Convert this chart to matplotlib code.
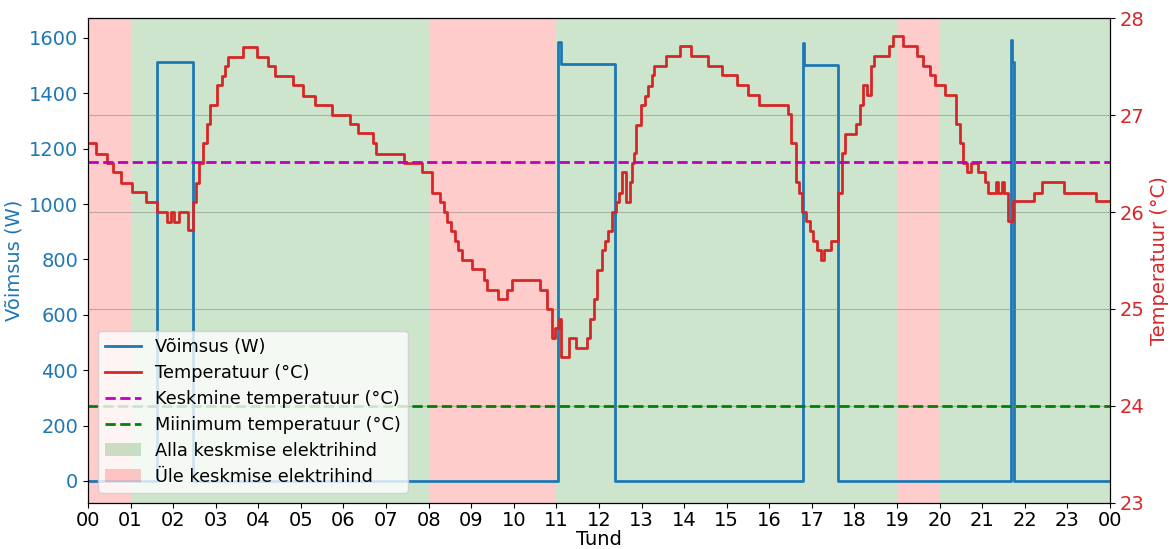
import matplotlib
matplotlib.use('Agg')
import matplotlib.pyplot as plt
from matplotlib.patches import Patch

# Temperature change points (hour, degC)
temp_hours = [0.00, 0.19, 0.44, 0.59, 0.77, 1.03, 1.36, 1.61, 1.86, 1.94, 2.02, 2.14,
              2.36, 2.46, 2.54, 2.61, 2.71, 2.79, 2.87, 3.04, 3.14, 3.22, 3.30, 3.65,
              3.96, 4.23, 4.39, 4.82, 5.06, 5.33, 5.74, 6.15, 6.33, 6.69, 6.76, 7.42,
              7.84, 8.09, 8.27, 8.36, 8.44, 8.53, 8.62, 8.70, 8.78, 9.03, 9.29, 9.36,
              9.62, 9.85, 9.95, 10.62, 10.77, 10.89, 10.97, 11.05, 11.12, 11.30, 11.47, 11.71,
              11.80, 11.88, 11.96, 12.06, 12.14, 12.22, 12.31, 12.40, 12.48, 12.55, 12.63, 12.73,
              12.78, 12.82, 12.88, 12.98, 13.07, 13.14, 13.24, 13.30, 13.57, 13.90, 14.15, 14.57,
              14.90, 15.23, 15.51, 15.76, 16.43, 16.52, 16.62, 16.70, 16.76, 16.85, 16.96, 17.03,
              17.13, 17.21, 17.28, 17.44, 17.61, 17.70, 17.78, 18.04, 18.13, 18.21, 18.29, 18.38,
              18.46, 18.80, 18.90, 19.13, 19.46, 19.62, 19.78, 19.89, 20.13, 20.39, 20.48, 20.56,
              20.64, 20.73, 20.89, 21.07, 21.14, 21.32, 21.38, 21.46, 21.52, 21.61, 21.73, 22.22,
              22.41, 22.91, 23.67, 24.00]
temp_values = [26.71, 26.60, 26.51, 26.41, 26.30, 26.21, 26.10, 26.00, 25.90, 26.00, 25.90, 26.00,
               25.81, 26.10, 26.30, 26.51, 26.71, 26.91, 27.10, 27.31, 27.40, 27.51, 27.60, 27.70,
               27.60, 27.51, 27.40, 27.31, 27.20, 27.10, 27.00, 26.91, 26.81, 26.71, 26.60, 26.51,
               26.41, 26.20, 26.10, 26.00, 25.90, 25.80, 25.70, 25.61, 25.51, 25.41, 25.30, 25.20,
               25.10, 25.20, 25.30, 25.20, 25.00, 24.70, 24.80, 24.90, 24.50, 24.70, 24.60, 24.70,
               24.90, 25.10, 25.40, 25.61, 25.70, 25.80, 26.00, 26.10, 26.20, 26.41, 26.10, 26.31,
               26.51, 26.61, 26.90, 27.10, 27.20, 27.30, 27.41, 27.51, 27.61, 27.71, 27.61, 27.51,
               27.41, 27.31, 27.21, 27.10, 27.01, 26.71, 26.31, 26.20, 26.00, 25.91, 25.80, 25.70,
               25.61, 25.51, 25.61, 25.70, 26.20, 26.61, 26.80, 26.91, 27.10, 27.31, 27.21, 27.51,
               27.61, 27.71, 27.81, 27.71, 27.61, 27.51, 27.41, 27.31, 27.21, 26.91, 26.71, 26.51,
               26.41, 26.51, 26.41, 26.31, 26.20, 26.31, 26.20, 26.31, 26.20, 25.91, 26.11, 26.20,
               26.31, 26.20, 26.11, 26.11]

# Power change points (hour, W)
power_hours = [0.00, 1.63, 2.46, 11.04, 11.10, 12.38, 16.78, 16.82, 17.62, 21.67, 21.71, 21.75, 24.00]
power_values = [0, 1513, 0, 1585, 1505, 0, 1583, 1503, 0, 1592, 1513, 0, 0]

mean_temp = 26.52
min_temp = 24.0

# 1 = price above daily mean, 0 = below
price_above = [1, 0, 0, 0, 0, 0, 0, 0, 1, 1, 1, 0, 0, 0, 0, 0, 0, 0, 0, 1, 0, 0, 0, 0]

hour_labels = [f'{h:02d}' for h in range(24)] + ['00']

fig, ax1 = plt.subplots(figsize=(11.71, 5.49), dpi=100)
fig.subplots_adjust(left=0.0751, right=0.9479, top=0.9672, bottom=0.0838)

for h, above in enumerate(price_above):
    ax1.axvspan(h, h + 1, color='red' if above else 'green', alpha=0.2, linewidth=0)

ax1.plot(power_hours, power_values, color='tab:blue', linewidth=2, drawstyle='steps-post')
ax1.set_ylabel('Võimsus (W)', color='tab:blue', fontsize=14)
ax1.tick_params(axis='y', labelcolor='tab:blue', labelsize=14)
ax1.tick_params(axis='x', labelsize=14, pad=2)
ax1.set_xlabel('Tund', fontsize=14, labelpad=0)
ax1.set_xlim(0, 24)
ax1.set_xticks(range(25))
ax1.set_xticklabels(hour_labels)

ax2 = ax1.twinx()
ax2.plot(temp_hours, temp_values, color='tab:red', linewidth=2, drawstyle='steps-post')
ax2.axhline(mean_temp, color='m', linestyle='--', linewidth=2)
ax2.axhline(min_temp, color='g', linestyle='--', linewidth=2)
ax2.set_ylim(23, 28)
ax2.set_ylabel('Temperatuur (°C)', color='tab:red', fontsize=14)
ax2.tick_params(axis='y', labelcolor='tab:red', labelsize=14)
ax2.grid(True, color='gray', alpha=0.5)

handles = [
    plt.Line2D([], [], color='tab:blue', linewidth=2),
    plt.Line2D([], [], color='tab:red', linewidth=2),
    plt.Line2D([], [], color='m', linestyle='--', linewidth=2),
    plt.Line2D([], [], color='g', linestyle='--', linewidth=2),
    Patch(facecolor='green', alpha=0.2),
    Patch(facecolor='red', alpha=0.2),
]
labels = ['Võimsus (W)', 'Temperatuur (°C)', 'Keskmine temperatuur (°C)',
          'Miinimum temperatuur (°C)', 'Alla keskmise elektrihind', 'Üle keskmise elektrihind']
ax2.legend(handles, labels, loc='lower left', bbox_to_anchor=(0.0098, 0.0206),
           borderaxespad=0, fontsize=12.8, labelspacing=0.45)

plt.savefig('out.png', dpi=100)
